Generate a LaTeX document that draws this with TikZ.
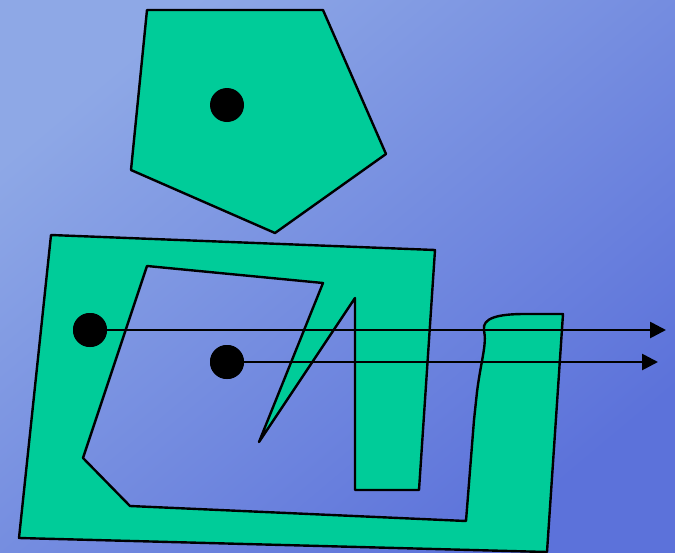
\documentclass[tikz,border=0pt]{standalone}
\usetikzlibrary{arrows.meta}
\definecolor{bgtl}{RGB}{142,168,230}
\definecolor{bgbr}{RGB}{92,114,218}
\definecolor{shapegreen}{RGB}{0,204,153}
\tikzset{
  shapepoly/.style={fill=shapegreen, draw=black, line width=2.4pt, line join=round},
  dotnode/.style={circle, fill=black, inner sep=0pt, minimum size=34pt},
  arrowline/.style={draw=black, line width=2.7pt, -{Triangle[length=16pt,width=16pt]}}
}
\begin{document}
\begin{tikzpicture}[x=1pt,y=-1pt]
\useasboundingbox (0,0) rectangle (675,552);
\shade[shading=axis, top color=bgtl, bottom color=bgbr, shading angle=40] (0,0) rectangle (675,552);
% pentagon
\draw[shapepoly] (147,10) -- (323,10) -- (386,154) -- (275,233) -- (131,170) -- cycle;
% big shape
\draw[shapepoly] (51,235) -- (435,250) -- (419,490) -- (355,490) -- (355,298) -- (259,442)
  -- (323,283) -- (147,266) -- (83,458) -- (130,506) -- (466,521) -- (474,420) -- (477,392)
  .. controls (481,360) and (487,345) .. (484,330)
  .. controls (482,318) and (498,314) .. (525,314) -- (563,314) -- (547,552) -- (19,538) -- cycle;
% dots
\node[dotnode] (d1) at (227,105) {};
\node[dotnode] (d2) at (90,330) {};
\node[dotnode] (d3) at (227,362) {};
\coordinate (e2) at (666,330);
\coordinate (e3) at (658,362);
\draw[arrowline] (d2.center) -- (e2);
\draw[arrowline] (d3.center) -- (e3);
\node[dotnode] at (d2) {};
\node[dotnode] at (d3) {};
\end{tikzpicture}
\end{document}
